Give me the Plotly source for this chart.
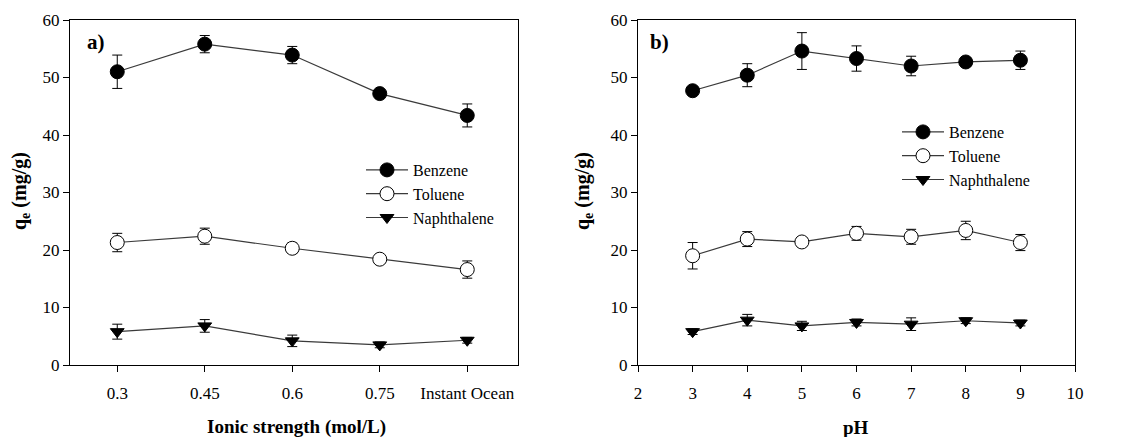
import plotly.graph_objects as go

# ---- data: panel a) ionic strength ----
ionic_labels = ["0.3", "0.45", "0.6", "0.75", "Instant Ocean"]
ionic_benzene = [51.0, 55.8, 53.9, 47.2, 43.4]
ionic_benzene_err = [2.9, 1.5, 1.5, 0.6, 2.0]
ionic_toluene = [21.3, 22.4, 20.3, 18.4, 16.6]
ionic_toluene_err = [1.6, 1.4, 0.9, 0.5, 1.5]
ionic_naph = [5.8, 6.8, 4.2, 3.5, 4.3]
ionic_naph_err = [1.3, 1.1, 1.0, 0.5, 0.5]

# ---- data: panel b) pH ----
ph_values = [3, 4, 5, 6, 7, 8, 9]
ph_benzene = [47.7, 50.4, 54.6, 53.3, 52.0, 52.7, 53.0]
ph_benzene_err = [0.6, 2.0, 3.2, 2.2, 1.7, 0.6, 1.6]
ph_toluene = [19.0, 21.9, 21.4, 22.9, 22.3, 23.4, 21.3]
ph_toluene_err = [2.3, 1.3, 0.6, 1.2, 1.3, 1.6, 1.4]
ph_naph = [5.8, 7.8, 6.8, 7.4, 7.1, 7.7, 7.3]
ph_naph_err = [0.5, 1.0, 0.8, 0.6, 1.1, 0.5, 0.5]

series_names = ["Benzene", "Toluene", "Naphthalene"]

W, H = 1131, 437
FONT = "Liberation Serif"
LINE_COLOR = "#3a3a3a"

styles = [
    dict(symbol="circle", size=14, color="black", line=dict(color="black", width=1)),
    dict(symbol="circle", size=14, color="white", line=dict(color="black", width=1)),
    dict(symbol="triangle-down", size=12, color="black", line=dict(color="black", width=1)),
]


def px_x(p):
    """pixel -> paper x"""
    return p / W


def px_y(p):
    """pixel -> paper y"""
    return 1 - p / H


fig = go.Figure()

left_x = list(range(len(ionic_labels)))
for name, ys, errs, st in zip(
    series_names,
    [ionic_benzene, ionic_toluene, ionic_naph],
    [ionic_benzene_err, ionic_toluene_err, ionic_naph_err],
    styles,
):
    fig.add_trace(go.Scatter(
        x=left_x, y=ys, name=name, mode="lines+markers",
        line=dict(color=LINE_COLOR, width=1.2),
        marker=st,
        error_y=dict(type="data", array=errs, color="black", thickness=1, width=5),
        xaxis="x", yaxis="y", legend="legend",
    ))

for name, ys, errs, st in zip(
    series_names,
    [ph_benzene, ph_toluene, ph_naph],
    [ph_benzene_err, ph_toluene_err, ph_naph_err],
    styles,
):
    fig.add_trace(go.Scatter(
        x=ph_values, y=ys, name=name, mode="lines+markers",
        line=dict(color=LINE_COLOR, width=1.2),
        marker=st,
        error_y=dict(type="data", array=errs, color="black", thickness=1, width=5),
        xaxis="x2", yaxis="y2", legend="legend2",
    ))

axis_common = dict(
    showline=True, linecolor="black", linewidth=1, mirror=True,
    ticks="outside", ticklen=6, tickcolor="black", tickwidth=1,
    showgrid=False, zeroline=False, automargin=False,
    tickfont=dict(family=FONT, size=17, color="black"),
)

y_dom = [px_y(365), px_y(20)]

legend_common = dict(
    xanchor="left", yanchor="top", bgcolor="rgba(0,0,0,0)",
    font=dict(family=FONT, size=16, color="black"),
    tracegroupgap=0, itemwidth=42,
)

fig.update_layout(
    width=W, height=H,
    margin=dict(l=0, r=0, t=0, b=0, autoexpand=False),
    paper_bgcolor="white", plot_bgcolor="white",
    font=dict(family=FONT, color="black"),
    xaxis=dict(
        domain=[px_x(70), px_x(518)], range=[-0.54, 4.58],
        tickmode="array", tickvals=left_x, ticktext=ionic_labels,
        ticklabelstandoff=7, anchor="y", **axis_common,
    ),
    yaxis=dict(
        domain=y_dom, range=[0, 60], tickvals=[0, 10, 20, 30, 40, 50, 60],
        anchor="x", **axis_common,
    ),
    xaxis2=dict(
        domain=[px_x(638), px_x(1075)], range=[2, 10],
        tickvals=[2, 3, 4, 5, 6, 7, 8, 9, 10],
        ticklabelstandoff=7, anchor="y2", **axis_common,
    ),
    yaxis2=dict(
        domain=y_dom, range=[0, 60], tickvals=[0, 10, 20, 30, 40, 50, 60],
        anchor="x2", **axis_common,
    ),
    legend=dict(x=px_x(361), y=px_y(153), **legend_common),
    legend2=dict(x=px_x(897), y=px_y(115), **legend_common),
)

title_font = dict(family=FONT, size=19, color="black")
annotations = [
    dict(text="<b>Ionic strength (mol/L)</b>", x=px_x(296), y=px_y(427)),
    dict(text="<b>pH</b>", x=px_x(856), y=px_y(427)),
    dict(text="<b>q<sub>e</sub> (mg/g)</b>", x=px_x(20), y=px_y(191), textangle=-90,
         font=dict(family=FONT, size=20, color="black")),
    dict(text="<b>q<sub>e</sub> (mg/g)</b>", x=px_x(583), y=px_y(191), textangle=-90,
         font=dict(family=FONT, size=20, color="black")),
]
for a in annotations:
    a.setdefault("font", title_font)
    fig.add_annotation(xref="paper", yref="paper", showarrow=False,
                       xanchor="center", yanchor="middle", **a)

for lbl, xp in [("a)", 85), ("b)", 648)]:
    fig.add_annotation(text=f"<b>{lbl}</b>", xref="paper", yref="paper",
                       x=px_x(xp), y=px_y(42), xanchor="left", yanchor="middle",
                       showarrow=False, font=dict(family=FONT, size=21, color="black"))

fig.write_html("out.html")
